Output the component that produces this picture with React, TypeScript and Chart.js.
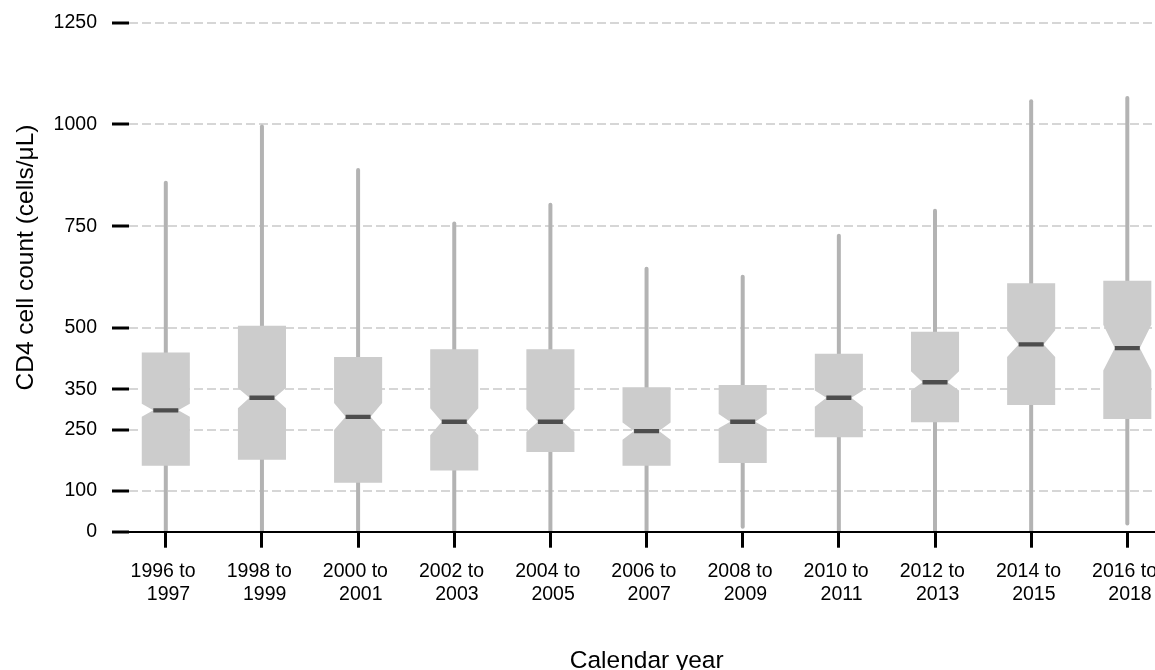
import React, { useEffect, useRef } from "react";
import { Chart, registerables } from "chart.js";

Chart.register(...registerables);

// Two-year calendar periods (label lines)
const periods: string[][] = [
  ["1996 to ", " 1997"],
  ["1998 to ", " 1999"],
  ["2000 to ", " 2001"],
  ["2002 to ", " 2003"],
  ["2004 to ", " 2005"],
  ["2006 to ", " 2007"],
  ["2008 to ", " 2009"],
  ["2010 to ", " 2011"],
  ["2012 to ", " 2013"],
  ["2014 to ", " 2015"],
  ["2016 to ", " 2018"],
];

// CD4 cell count summaries (cells/µL) per period
const whiskerLow = [0, 0, 0, 0, 0, 0, 12, 0, 0, 0, 20];
const lowerQuartile = [162, 177, 120, 150, 196, 162, 169, 232, 269, 311, 277];
const notchLow = [282, 303, 250, 237, 245, 226, 254, 307, 347, 429, 396];
const medianCD4 = [298, 329, 282, 270, 270, 247, 270, 329, 367, 460, 451];
const notchHigh = [314, 353, 316, 303, 301, 268, 289, 347, 394, 495, 508];
const upperQuartile = [440, 506, 429, 448, 448, 355, 360, 437, 491, 610, 616];
const whiskerHigh = [857, 995, 888, 757, 803, 646, 626, 727, 788, 1057, 1065];

const yTicks = [0, 100, 250, 350, 500, 750, 1000, 1250];

const FONT_FAMILY = '"Liberation Sans", Arial, Helvetica, sans-serif';
const BOX_HALF = 0.25; // half box width, in category units
const NOTCH_HALF = 0.13; // half width at the notch waist

const notchedBoxes = {
  id: "notchedBoxes",
  afterDatasetsDraw(chart: any) {
    const { ctx, chartArea, scales } = chart;
    const x = scales.x;
    const y = scales.y;
    ctx.save();
    ctx.beginPath();
    ctx.rect(
      chartArea.left,
      chartArea.top,
      chartArea.right - chartArea.left,
      chartArea.bottom - chartArea.top
    );
    ctx.clip();

    medianCD4.forEach((med, i) => {
      const cx = x.getPixelForValue(i);

      // whisker
      ctx.strokeStyle = "#b3b3b3";
      ctx.lineWidth = 4;
      ctx.lineCap = "round";
      ctx.beginPath();
      ctx.moveTo(cx, y.getPixelForValue(whiskerLow[i]));
      ctx.lineTo(cx, y.getPixelForValue(whiskerHigh[i]));
      ctx.stroke();

      // notched box
      const bl = x.getPixelForValue(i - BOX_HALF);
      const br = x.getPixelForValue(i + BOX_HALF);
      const nl = x.getPixelForValue(i - NOTCH_HALF);
      const nr = x.getPixelForValue(i + NOTCH_HALF);
      const yq3 = y.getPixelForValue(upperQuartile[i]);
      const yq1 = y.getPixelForValue(lowerQuartile[i]);
      const ynh = y.getPixelForValue(notchHigh[i]);
      const ynl = y.getPixelForValue(notchLow[i]);
      const ym = y.getPixelForValue(med);
      ctx.fillStyle = "#cccccc";
      ctx.beginPath();
      ctx.moveTo(bl, yq3);
      ctx.lineTo(br, yq3);
      ctx.lineTo(br, ynh);
      ctx.lineTo(nr, ym);
      ctx.lineTo(br, ynl);
      ctx.lineTo(br, yq1);
      ctx.lineTo(bl, yq1);
      ctx.lineTo(bl, ynl);
      ctx.lineTo(nl, ym);
      ctx.lineTo(bl, ynh);
      ctx.closePath();
      ctx.fill();

      // median bar
      ctx.strokeStyle = "#4d4d4d";
      ctx.lineWidth = 4.3;
      ctx.lineCap = "butt";
      ctx.beginPath();
      ctx.moveTo(nl, ym);
      ctx.lineTo(nr, ym);
      ctx.stroke();
    });
    ctx.restore();
  },
};

const axisTitles = {
  id: "axisTitles",
  afterDraw(chart: any) {
    const { ctx, chartArea, height } = chart;
    ctx.save();
    ctx.fillStyle = "#000";
    ctx.font = `24.5px ${FONT_FAMILY}`;
    ctx.textAlign = "center";
    ctx.textBaseline = "alphabetic";
    ctx.fillText("Calendar year", chartArea.left + 517.7, height - 2.5);
    ctx.translate(32.5, (chartArea.top + chartArea.bottom) / 2 - 19.7);
    ctx.rotate(-Math.PI / 2);
    ctx.fillText("CD4 cell count (cells/μL)", 0, 0);
    ctx.restore();
  },
};

export default function App() {
  const canvasRef = useRef<HTMLCanvasElement>(null);

  useEffect(() => {
    const tickFont = { family: FONT_FAMILY, size: 19.5 };
    const chart = new Chart(canvasRef.current as HTMLCanvasElement, {
      type: "scatter",
      data: {
        datasets: [
          {
            label: "Median CD4",
            data: medianCD4.map((m, i) => ({ x: i, y: m })),
            pointRadius: 0,
            pointHoverRadius: 0,
          },
        ],
      },
      options: {
        animation: false,
        responsive: false,
        devicePixelRatio: 1,
        events: [],
        layout: {
          autoPadding: false,
          padding: { top: 22.7, left: 0, right: 0, bottom: 0 },
        },
        plugins: {
          legend: { display: false },
          tooltip: { enabled: false },
          title: { display: false },
        },
        scales: {
          x: {
            type: "linear",
            min: -0.3827,
            max: 10.288,
            afterFit: (s: any) => {
              s.height = 138.3;
              s.paddingLeft = 0;
              s.paddingRight = 0;
            },
            afterBuildTicks: (s: any) => {
              s.ticks = periods.map((_, i) => ({ value: i }));
            },
            ticks: {
              callback: (v: any) => periods[v] ?? "",
              font: tickFont,
              color: "#000",
              padding: 12,
              autoSkip: false,
              minRotation: 0,
              maxRotation: 0,
            },
            grid: {
              drawOnChartArea: false,
              drawTicks: true,
              tickLength: 16,
              tickColor: "#000",
              tickWidth: 3,
            },
            border: { display: true, color: "#000", width: 2, z: 1 },
          },
          y: {
            type: "linear",
            min: 0,
            max: 1250,
            afterFit: (s: any) => {
              s.width = 129;
              s.paddingTop = 0;
              s.paddingBottom = 0;
            },
            afterBuildTicks: (s: any) => {
              s.ticks = yTicks.map((v) => ({ value: v }));
            },
            ticks: {
              font: tickFont,
              color: "#000",
              padding: 15,
              autoSkip: false,
              callback: (v: any) => String(v),
            },
            grid: {
              color: "#d6d6d6",
              lineWidth: 2,
              drawTicks: true,
              tickLength: 17,
              tickColor: "#000",
              tickWidth: 3,
              tickBorderDash: [],
            },
            border: { display: false, dash: [9, 4] },
          },
        },
      },
      plugins: [notchedBoxes, axisTitles],
    } as any);
    return () => chart.destroy();
  }, []);

  return (
    <div
      style={{
        position: "fixed",
        left: 0,
        top: 0,
        width: 1155,
        height: 670,
        background: "#fff",
      }}
    >
      <canvas
        ref={canvasRef}
        width={1155}
        height={670}
        style={{ display: "block", width: 1155, height: 670 }}
      />
    </div>
  );
}
